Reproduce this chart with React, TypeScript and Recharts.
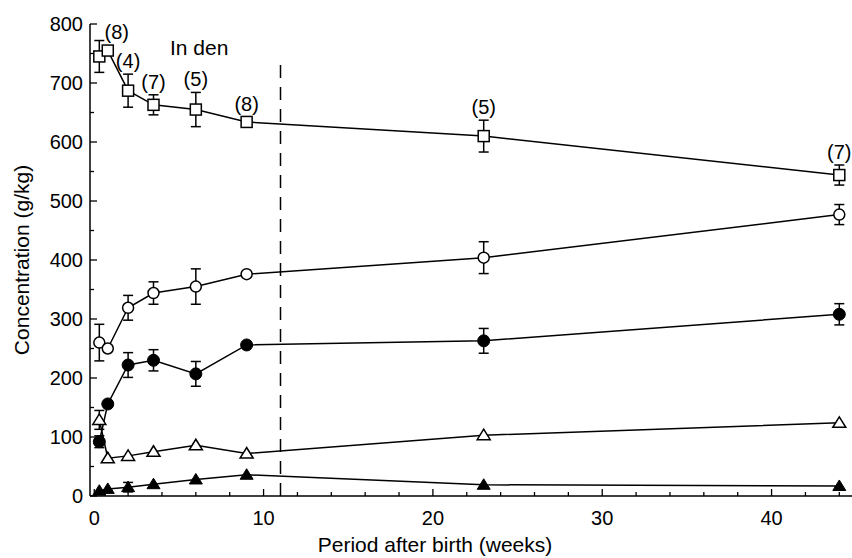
import React from 'react';
import {
  LineChart,
  Line,
  XAxis,
  YAxis,
  ErrorBar,
  ReferenceLine,
  ReferenceDot,
  LabelList
} from 'recharts';

// weeks after birth
const weeks = [0.3, 0.8, 2, 3.5, 6, 9, 23, 44];

// g/kg
const squareVals = [745, 755, 687, 663, 655, 634, 610, 544];
const squareErr = [27, null, 28, 17, 29, null, 27, 17];
const openCircleVals = [260, 250, 319, 344, 355, 376, 404, 477];
const openCircleErr = [31, null, 21, 19, 30, null, 27, 17];
const filledCircleVals = [92, 156, 222, 230, 207, 256, 263, 308];
const filledCircleErr = [10, null, 21, 18, 21, null, 21, 18];
const openTriangleVals = [129, 64, 68, 75, 86, 72, 103, 124];
const openTriangleErr = [16, null, null, null, null, null, null, null];
const filledTriangleVals = [9, 12, 15, 20, 28, 36, 19, 17];
const filledTriangleErr = [null, null, 8, null, null, null, null, null];

// number of animals per sampling point
const sampleSizes = ['', '(8)', '(4)', '(7)', '(5)', '(8)', '(5)', '(7)'];

const xTicks = [0, 2, 4, 6, 8, 10, 12, 14, 16, 18, 20, 22, 24, 26, 28, 30, 32, 34, 36, 38, 40, 42, 44];
const yTicks = [0, 50, 100, 150, 200, 250, 300, 350, 400, 450, 500, 550, 600, 650, 700, 750, 800];

const denEndWeek = 11;
const denLabel = { week: 6.2, value: 760, text: 'In den' };

const FONT = '"Liberation Sans", Arial, Helvetica, sans-serif';
const INK = '#000';

const table = weeks.map((w, i) => ({
  week: w,
  square: squareVals[i],
  squareErr: squareErr[i],
  squareTop: squareVals[i] + (squareErr[i] ?? 9),
  openCircle: openCircleVals[i],
  openCircleErr: openCircleErr[i],
  filledCircle: filledCircleVals[i],
  filledCircleErr: filledCircleErr[i],
  openTriangle: openTriangleVals[i],
  openTriangleErr: openTriangleErr[i],
  filledTriangle: filledTriangleVals[i],
  filledTriangleErr: filledTriangleErr[i]
}));

const SquareDot = (p: any) => (
  <rect key={`sq-${p.index}`} x={p.cx - 5.5} y={p.cy - 5.5} width={11} height={11}
    fill="#fff" stroke={INK} strokeWidth={1.5} />
);
const OpenCircleDot = (p: any) => (
  <circle key={`oc-${p.index}`} cx={p.cx} cy={p.cy} r={5.5} fill="#fff" stroke={INK} strokeWidth={1.5} />
);
const FilledCircleDot = (p: any) => (
  <circle key={`fc-${p.index}`} cx={p.cx} cy={p.cy} r={6} fill={INK} stroke={INK} strokeWidth={1} />
);
const triPoints = (cx: number, cy: number) =>
  `${cx},${cy - 6} ${cx - 6.5},${cy + 4.5} ${cx + 6.5},${cy + 4.5}`;
const OpenTriangleDot = (p: any) => (
  <polygon key={`ot-${p.index}`} points={triPoints(p.cx, p.cy)} fill="#fff" stroke={INK} strokeWidth={1.5} />
);
const FilledTriangleDot = (p: any) => (
  <polygon key={`ft-${p.index}`} points={triPoints(p.cx, p.cy)} fill={INK} stroke={INK} strokeWidth={1} />
);

const XTick = (p: any) => {
  const v = p.payload.value;
  const major = v % 10 === 0;
  return (
    <g>
      <line x1={p.x} x2={p.x} y1={p.y} y2={p.y - (major ? 7 : 4)} stroke={INK} strokeWidth={1.3} />
      {major && (
        <text x={p.x} y={p.y + 22} textAnchor="middle" dominantBaseline="central"
          fontFamily={FONT} fontSize={20} fill={INK}>
          {v}
        </text>
      )}
    </g>
  );
};

const YTick = (p: any) => {
  const v = p.payload.value;
  const major = v % 100 === 0;
  return (
    <g>
      <line x1={p.x} x2={p.x + (major ? 7 : 4)} y1={p.y} y2={p.y} stroke={INK} strokeWidth={1.3} />
      {major && (
        <text x={p.x - 7} y={p.y} textAnchor="end" dominantBaseline="central"
          fontFamily={FONT} fontSize={20} fill={INK}>
          {v}
        </text>
      )}
    </g>
  );
};

const SampleLabel = (p: any) => {
  const text = sampleSizes[p.index];
  if (!text) return null;
  // the first count sits right of the crowded pair of early points
  const dx = p.index === 1 ? 9 : 0;
  return (
    <text x={p.x + dx} y={p.y - 13} textAnchor="middle" dominantBaseline="central"
      fontFamily={FONT} fontSize={20} fill={INK}>
      {text}
    </text>
  );
};

export default function App() {
  return (
    <div style={{ position: 'absolute', left: 0, top: 0, background: '#fff' }}>
      <LineChart width={852} height={558} data={table}
        margin={{ top: 24, right: 0, bottom: 0, left: 0 }}
        style={{ fontFamily: FONT }}>
        <XAxis dataKey="week" type="number" scale="linear" domain={[-0.25, 44.75]} allowDataOverflow
          ticks={xTicks} interval={0} tickSize={0} tickMargin={0} height={62}
          axisLine={{ stroke: INK, strokeWidth: 1.5 }} tickLine={false} tick={<XTick />}
          label={{ value: 'Period after birth (weeks)', position: 'insideBottom', offset: 6, dx: -36,
            style: { fontFamily: FONT, fontSize: 21, fill: INK } }} />
        <YAxis type="number" domain={[0, 800]} allowDataOverflow ticks={yTicks} interval={0}
          tickSize={0} tickMargin={0} width={90}
          axisLine={{ stroke: INK, strokeWidth: 1.5 }} tickLine={false} tick={<YTick />}
          label={{ value: 'Concentration (g/kg)', angle: -90, position: 'insideLeft', offset: 22,
            style: { fontFamily: FONT, fontSize: 21, fill: INK, textAnchor: 'middle' } }} />

        <ReferenceLine segment={[{ x: denEndWeek, y: 0 }, { x: denEndWeek, y: 742 }]}
          stroke={INK} strokeWidth={1.5} strokeDasharray="13 9" />
        <ReferenceDot x={denLabel.week} y={denLabel.value} r={0} fill="none" stroke="none"
          label={{ value: denLabel.text, position: 'center',
            style: { fontFamily: FONT, fontSize: 21, fill: INK } }} />

        <Line type="linear" dataKey="square" stroke={INK} strokeWidth={1.5}
          dot={SquareDot} activeDot={false} isAnimationActive={false}>
          <ErrorBar dataKey="squareErr" direction="y" width={5} stroke={INK} strokeWidth={1.5} />
        </Line>
        <Line type="linear" dataKey="squareTop" stroke="none" dot={false} activeDot={false}
          isAnimationActive={false}>
          <LabelList dataKey="squareTop" content={<SampleLabel />} />
        </Line>
        <Line type="linear" dataKey="openCircle" stroke={INK} strokeWidth={1.5}
          dot={OpenCircleDot} activeDot={false} isAnimationActive={false}>
          <ErrorBar dataKey="openCircleErr" direction="y" width={5} stroke={INK} strokeWidth={1.5} />
        </Line>
        <Line type="linear" dataKey="filledCircle" stroke={INK} strokeWidth={1.5}
          dot={FilledCircleDot} activeDot={false} isAnimationActive={false}>
          <ErrorBar dataKey="filledCircleErr" direction="y" width={5} stroke={INK} strokeWidth={1.5} />
        </Line>
        <Line type="linear" dataKey="openTriangle" stroke={INK} strokeWidth={1.5}
          dot={OpenTriangleDot} activeDot={false} isAnimationActive={false}>
          <ErrorBar dataKey="openTriangleErr" direction="y" width={5} stroke={INK} strokeWidth={1.5} />
        </Line>
        <Line type="linear" dataKey="filledTriangle" stroke={INK} strokeWidth={1.5}
          dot={FilledTriangleDot} activeDot={false} isAnimationActive={false}>
          <ErrorBar dataKey="filledTriangleErr" direction="y" width={5} stroke={INK} strokeWidth={1.5} />
        </Line>
      </LineChart>
    </div>
  );
}
